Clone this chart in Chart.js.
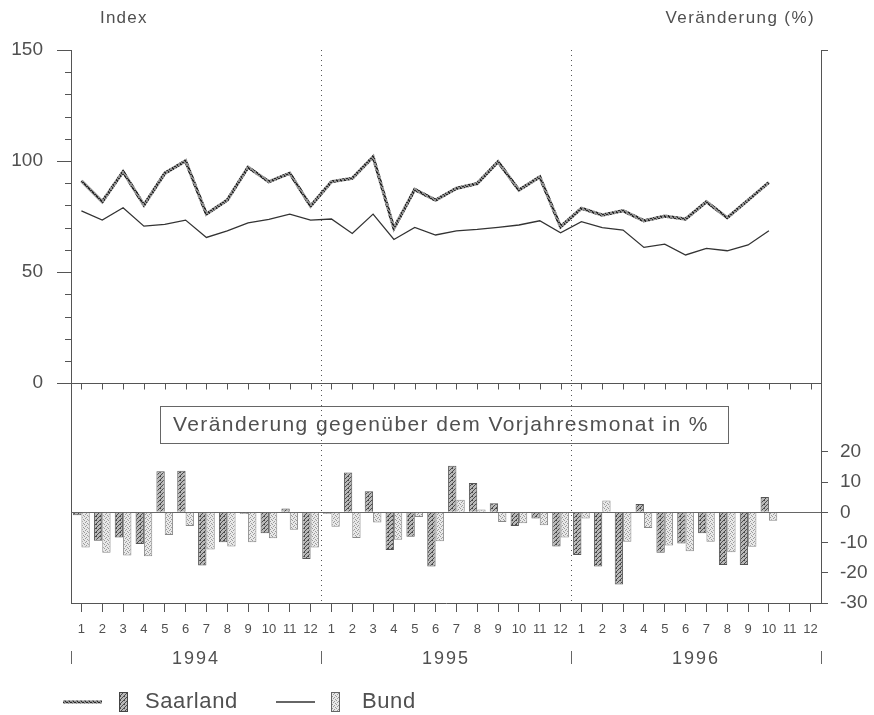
<!DOCTYPE html>
<html lang="de">
<head>
<meta charset="utf-8" />
<title>Index Saarland / Bund</title>
<script src="https://cdn.jsdelivr.net/npm/chart.js@4.4.1/dist/chart.umd.min.js"></script>
<style>
  html, body { margin: 0; padding: 0; background: #fff; }
  canvas { display: block; }
</style>
</head>
<body>
<canvas id="c" width="874" height="715"></canvas>
<script>
// Monate und Jahre (Kategorien)
const months = ['1', '2', '3', '4', '5', '6', '7', '8', '9', '10', '11', '12'];
const years = ['1994', '1995', '1996'];

// Index (linke Achse), Jan 1994 .. Okt 1996
const saarIndex = [91.1, 81.7, 95.2, 80.2, 94.5, 100.1, 76.1, 82.4, 97.2, 90.7, 94.5, 79.7,
  90.7, 92.2, 101.9, 69.7, 87.2, 82.4, 87.7, 89.9, 99.7, 86.9, 92.9, 70.4,
  78.7, 75.7, 77.6, 73.1, 75.2, 73.9, 81.7, 74.5, 82.4, 90.4, null, null];
const bundIndex = [77.6, 73.4, 79.0, 70.7, 71.5, 73.4, 65.6, 68.6, 72.2, 73.7, 76.1, 73.4,
  73.9, 67.4, 76.1, 64.7, 70.1, 66.7, 68.6, 69.2, 70.1, 71.2, 73.1, 67.7,
  72.7, 70.0, 68.9, 61.1, 62.6, 57.7, 60.7, 59.6, 62.2, 68.6, null, null];

// Veraenderung gegenueber Vorjahresmonat in % (rechte Achse)
const saarChange = [-1.0, -9.4, -8.3, -10.5, 13.6, 13.8, -17.6, -9.9, -0.5, -6.9, 1.3, -15.4,
  -0.5, 13.2, 7.0, -12.5, -8.1, -17.9, 15.4, 9.7, 3.0, -4.5, -2.0, -11.3,
  -14.1, -17.9, -23.9, 2.8, -13.4, -10.3, -6.9, -17.4, -17.4, 5.1, null, null];
const bundChange = [-11.6, -13.4, -14.3, -14.5, -7.5, -4.5, -12.3, -11.3, -9.9, -8.6, -5.8, -11.6,
  -4.8, -8.5, -3.4, -9.1, -1.5, -9.6, 4.2, 0.9, -3.2, -3.6, -4.3, -8.3,
  -2.0, 3.9, -9.7, -5.2, -11.0, -12.9, -9.7, -13.2, -11.4, -2.8, null, null];

const indexTicks = [0, 50, 100, 150];
const changeTicks = [-30, -20, -10, 0, 10, 20];

const labels = years.flatMap(() => months);
const FONT = "'Liberation Sans', Arial, sans-serif";
const INK = '#505050';

// kleine Punktraster wie im Druck
function speckle(bg, fg, bits) {
  const c = document.createElement('canvas');
  c.width = 4; c.height = 4;
  const g = c.getContext('2d');
  g.fillStyle = bg;
  g.fillRect(0, 0, 4, 4);
  g.fillStyle = fg;
  bits.forEach((b, i) => { if (b) g.fillRect(i % 4, Math.floor(i / 4), 1, 1); });
  return g.createPattern(c, 'repeat');
}
const saarFill = speckle('#b8b8b8', '#4a4a4a', [1,0,0,1, 0,0,1,0, 0,1,0,0, 1,0,0,0]);
const bundFill = speckle('#e8e8e8', '#9a9a9a', [1,0,0,0, 0,0,1,0, 0,1,0,0, 0,0,0,1]);
const saarLine = speckle('#8e8e8e', '#2a2a2a', [1,1,0,0, 0,1,0,0, 0,0,1,1, 1,0,0,0]);

function spaced(ctx, text, x, y, px, align) {
  ctx.letterSpacing = px + 'px';
  ctx.textAlign = align;
  ctx.fillText(text, x, y);
  ctx.letterSpacing = '0px';
}

const decor = {
  id: 'decor',
  beforeDatasetsDraw(chart) {
    const { ctx, chartArea: a, scales: { x, y, y2 } } = chart;
    ctx.save();
    ctx.strokeStyle = '#555';
    ctx.lineWidth = 1;
    // Nulllinie Index (Trennung der Panels) mit Monatsstrichen
    const y0 = Math.round(y.getPixelForValue(0)) + 0.5;
    ctx.beginPath();
    ctx.moveTo(a.left, y0); ctx.lineTo(a.right, y0);
    for (let i = 0; i < labels.length; i++) {
      const px = Math.round(x.getPixelForValue(i)) + 0.5;
      ctx.moveTo(px, y0); ctx.lineTo(px, y0 + 6);
    }
    // Nebenstriche linke Achse
    for (let v = 10; v < 150; v += 10) {
      if (v % 50 === 0) continue;
      const py = Math.round(y.getPixelForValue(v)) + 0.5;
      ctx.moveTo(a.left - 6, py); ctx.lineTo(a.left, py);
    }
    // Strich oben rechts
    ctx.moveTo(a.right, a.top + 0.5); ctx.lineTo(a.right + 7, a.top + 0.5);
    ctx.stroke();
    // Nulllinie Veraenderung
    const z = Math.round(y2.getPixelForValue(0)) + 0.5;
    ctx.strokeStyle = '#666';
    ctx.beginPath();
    ctx.moveTo(a.left, z); ctx.lineTo(a.right, z);
    ctx.stroke();
    // gepunktete Jahresgrenzen
    ctx.setLineDash([1, 4]);
    ctx.strokeStyle = '#555';
    for (let k = 1; k < years.length; k++) {
      const i = k * months.length;
      const bx = Math.round((x.getPixelForValue(i - 1) + x.getPixelForValue(i)) / 2) + 0.5;
      ctx.beginPath();
      ctx.moveTo(bx, a.top); ctx.lineTo(bx, a.bottom);
      ctx.stroke();
    }
    ctx.restore();
  },
  afterDraw(chart) {
    const { ctx, chartArea: a, scales: { x } } = chart;
    ctx.save();
    ctx.fillStyle = INK;
    ctx.strokeStyle = '#666';
    ctx.lineWidth = 1;
    ctx.textBaseline = 'middle';

    // Titel
    ctx.font = '17px ' + FONT;
    spaced(ctx, 'Index', 100, 18, 1.2, 'left');
    spaced(ctx, 'Veränderung (%)', 815, 18, 1.4, 'right');

    // Kasten
    ctx.strokeRect(160.5, 406.5, 568, 37);
    ctx.font = '21px ' + FONT;
    spaced(ctx, 'Veränderung gegenüber dem Vorjahresmonat in %', 173, 425, 1.4, 'left');

    // Jahresbeschriftung
    const n = months.length;
    const edges = [];
    for (let k = 0; k <= years.length; k++) {
      if (k === 0) edges.push(a.left);
      else if (k === years.length) edges.push(a.right);
      else edges.push((x.getPixelForValue(k * n - 1) + x.getPixelForValue(k * n)) / 2);
    }
    ctx.beginPath();
    edges.forEach((e) => { const ex = Math.round(e) + 0.5; ctx.moveTo(ex, 651); ctx.lineTo(ex, 664); });
    ctx.stroke();
    ctx.font = '18px ' + FONT;
    years.forEach((yr, k) => spaced(ctx, yr, (edges[k] + edges[k + 1]) / 2, 659, 2, 'center'));

    // Legende
    const ly = 702;
    ctx.lineWidth = 3;
    ctx.strokeStyle = saarLine;
    ctx.beginPath(); ctx.moveTo(63, ly); ctx.lineTo(102, ly); ctx.stroke();
    ctx.lineWidth = 1;
    ctx.fillStyle = saarFill;
    ctx.fillRect(119, 692, 8, 20);
    ctx.strokeStyle = '#444';
    ctx.strokeRect(119.5, 692.5, 8, 19);
    ctx.fillStyle = INK;
    ctx.font = '22px ' + FONT;
    spaced(ctx, 'Saarland', 145, ly, 0.6, 'left');

    ctx.strokeStyle = '#333';
    ctx.lineWidth = 1.3;
    ctx.beginPath(); ctx.moveTo(276, ly); ctx.lineTo(315, ly); ctx.stroke();
    ctx.lineWidth = 1;
    ctx.fillStyle = bundFill;
    ctx.fillRect(331, 692, 8, 20);
    ctx.strokeStyle = '#666';
    ctx.strokeRect(331.5, 692.5, 8, 19);
    ctx.fillStyle = INK;
    spaced(ctx, 'Bund', 362, ly, 0.6, 'left');
    ctx.restore();
  }
};

new Chart(document.getElementById('c'), {
  data: {
    labels,
    datasets: [
      { type: 'line', label: 'Saarland', data: saarIndex, yAxisID: 'y', borderColor: saarLine,
        borderWidth: 3.2, pointRadius: 0, tension: 0 },
      { type: 'line', label: 'Bund', data: bundIndex, yAxisID: 'y', borderColor: '#333',
        borderWidth: 1.3, pointRadius: 0, tension: 0 },
      { type: 'bar', label: 'Saarland %', data: saarChange, yAxisID: 'y2', backgroundColor: saarFill,
        borderColor: '#555', borderWidth: 1, barPercentage: 1, categoryPercentage: 0.8 },
      { type: 'bar', label: 'Bund %', data: bundChange, yAxisID: 'y2', backgroundColor: bundFill,
        borderColor: '#888', borderWidth: 1, barPercentage: 1, categoryPercentage: 0.8 }
    ]
  },
  options: {
    responsive: false,
    animation: false,
    devicePixelRatio: 1,
    layout: { padding: { top: 50, left: 0, right: 0, bottom: 0 } },
    plugins: { legend: { display: false }, tooltip: { enabled: false } },
    scales: {
      x: {
        type: 'category',
        offset: true,
        afterFit: (s) => { s.height = 112; },
        grid: { drawOnChartArea: false, offset: false, tickLength: 9, color: '#555' },
        border: { display: true, color: '#555' },
        ticks: { autoSkip: false, maxRotation: 0, padding: 10, color: INK, font: { family: FONT, size: 13 } }
      },
      y: {
        position: 'left',
        min: -99, max: 150,
        afterFit: (s) => { s.width = 71; },
        afterBuildTicks: (s) => { s.ticks = indexTicks.map((v) => ({ value: v })); },
        grid: { drawOnChartArea: false, tickLength: 14, color: '#555' },
        border: { display: true, color: '#555' },
        ticks: { padding: 14, color: INK, font: { family: FONT, size: 19 } }
      },
      y2: {
        position: 'right',
        min: -30, max: 153,
        afterFit: (s) => { s.width = 53; },
        afterBuildTicks: (s) => { s.ticks = changeTicks.map((v) => ({ value: v })); },
        grid: { drawOnChartArea: false, tickLength: 7, color: '#555' },
        border: { display: true, color: '#555' },
        ticks: { padding: 12, color: INK, font: { family: FONT, size: 19 } }
      }
    }
  },
  plugins: [decor]
});
</script>
</body>
</html>
